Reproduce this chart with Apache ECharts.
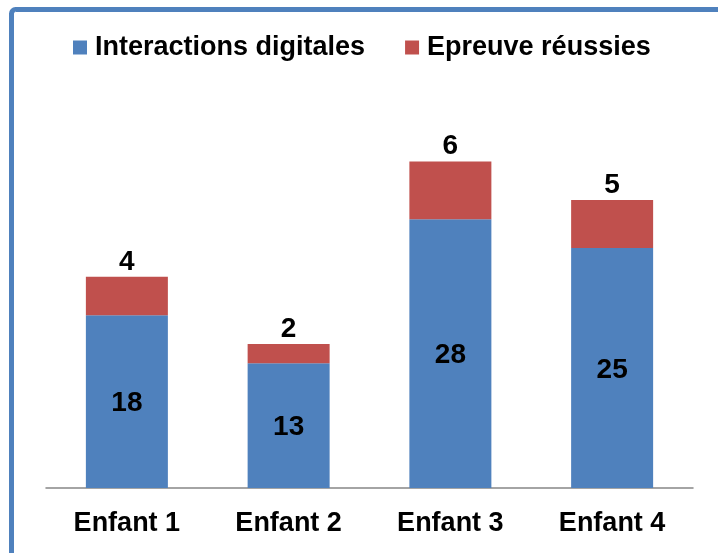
<!DOCTYPE html>
<html>
<head>
<meta charset="utf-8">
<script src="https://cdn.jsdelivr.net/npm/echarts@6/dist/echarts.min.js"></script>
<style>
html,body{margin:0;padding:0;background:#fff;}
#chart{width:718px;height:553px;}
</style>
</head>
<body>
<div id="chart"></div>
<script>
const categories = ['Enfant 1', 'Enfant 2', 'Enfant 3', 'Enfant 4'];
const interactions = [18, 13, 28, 25];
const epreuves = [4, 2, 6, 5];
const seriesNames = ['Interactions digitales', 'Epreuve réussies'];

const FONT = '"Liberation Sans", Arial, sans-serif';
const chart = echarts.init(document.getElementById('chart'));
chart.setOption({
  animation: false,
  backgroundColor: '#ffffff',
  graphic: [{
    type: 'rect',
    shape: { x: 11.5, y: 9.5, width: 900, height: 800, r: 4 },
    style: { fill: 'none', stroke: '#4F81BD', lineWidth: 5 },
    silent: true
  }],
  legend: {
    top: 29,
    left: 68,
    itemWidth: 14,
    itemHeight: 14,
    itemGap: 40,
    icon: 'rect',
    textStyle: { fontFamily: FONT, fontWeight: 'bold', fontSize: 27, color: '#000', padding: [0, 0, 0, 3] },
    data: seriesNames
  },
  grid: { left: 46, right: 25, top: 104, bottom: 65, containLabel: false },
  xAxis: {
    type: 'category',
    data: categories,
    axisLine: { lineStyle: { color: '#868686', width: 1.5 } },
    axisTick: { show: false },
    axisLabel: { margin: 22, fontFamily: FONT, fontWeight: 'bold', fontSize: 27, color: '#000' }
  },
  yAxis: {
    type: 'value', min: 0, max: 40, show: false,
    splitLine: { show: false }
  },
  series: [{
    name: seriesNames[0],
    type: 'bar',
    stack: 'total',
    data: interactions,
    barWidth: 82,
    itemStyle: { color: '#4F81BD' },
    label: { show: true, position: 'inside', offset: [0, 2], fontFamily: FONT, fontWeight: 'bold', fontSize: 28, color: '#000' }
  }, {
    name: seriesNames[1],
    type: 'bar',
    stack: 'total',
    data: epreuves,
    barWidth: 82,
    itemStyle: { color: '#C0504D' },
    label: { show: true, position: 'top', distance: 1, fontFamily: FONT, fontWeight: 'bold', fontSize: 28, color: '#000' }
  }]
});
</script>
</body>
</html>
